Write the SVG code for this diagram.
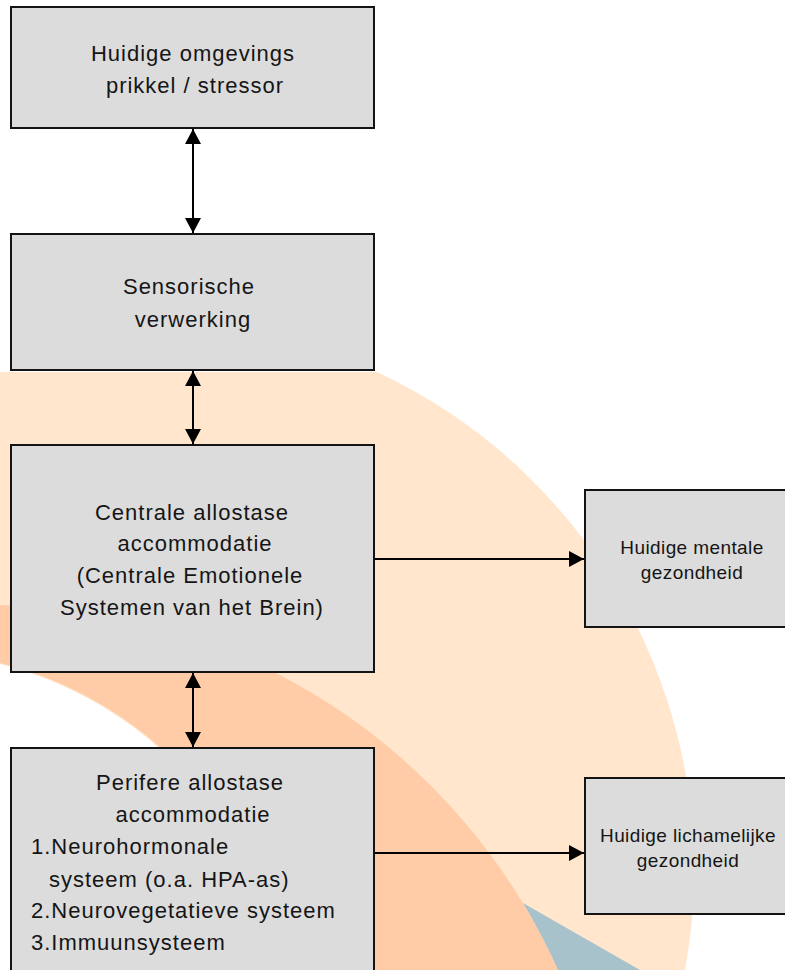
<svg xmlns="http://www.w3.org/2000/svg" width="785" height="970" viewBox="0 0 785 970">
  <style>
    .box { fill: #dcdcdc; stroke: #141414; stroke-width: 2; }
    .t { font-family: "Liberation Sans", Arial, sans-serif; font-size: 22px; letter-spacing: 1px; fill: #151515; }
    .c { text-anchor: middle; }
    .s { font-size: 19px; letter-spacing: 0.4px; }
    .conn { stroke: #000; stroke-width: 2; fill: none; }
  </style>
  <defs>
    <marker id="ah" markerUnits="userSpaceOnUse" markerWidth="15" markerHeight="16" refX="15" refY="8" orient="auto-start-reverse">
      <path d="M0,0 L15,8 L0,16 Z" fill="#000"/>
    </marker>
  </defs>
  <rect x="0" y="0" width="785" height="970" fill="#ffffff"/>
  <g id="watermark">
    <path d="M0,372 L377,372 A550,550 0 0,1 685,970 L0,970 Z" fill="#ffe6cd"/>
    <path d="M0,605 A618,618 0 0,1 558,970 L285,970 A385,385 0 0,0 0,663 Z" fill="#ffcca7"/>
    <circle cx="-95" cy="1037" r="385" fill="#ffffff"/>
    <path d="M523,903 L640,970 L558,970 A618,618 0 0,0 523,903 Z" fill="#a8c2cc"/>
  </g>
  <g id="connectors">
    <line class="conn" x1="193" y1="129" x2="193" y2="233" marker-start="url(#ah)" marker-end="url(#ah)"/>
    <line class="conn" x1="193" y1="371" x2="193" y2="444" marker-start="url(#ah)" marker-end="url(#ah)"/>
    <line class="conn" x1="193" y1="673" x2="193" y2="747" marker-start="url(#ah)" marker-end="url(#ah)"/>
    <line class="conn" x1="375" y1="559" x2="584" y2="559" marker-end="url(#ah)"/>
    <line class="conn" x1="375" y1="853" x2="584" y2="853" marker-end="url(#ah)"/>
  </g>
  <g id="stressor">
    <rect class="box" x="11" y="7" width="363" height="121"/>
    <text class="t c" x="193" y="61">Huidige omgevings</text>
    <text class="t c" x="195" y="93">prikkel / stressor</text>
  </g>
  <g id="sensorisch">
    <rect class="box" x="11" y="234" width="363" height="136"/>
    <text class="t c" x="189" y="294">Sensorische</text>
    <text class="t c" x="193" y="327">verwerking</text>
  </g>
  <g id="centraal">
    <rect class="box" x="11" y="445" width="363" height="227"/>
    <text class="t c" x="192" y="520">Centrale allostase</text>
    <text class="t c" x="195" y="551">accommodatie</text>
    <text class="t c" x="190" y="583">(Centrale Emotionele</text>
    <text class="t c" x="192" y="615">Systemen van het Brein)</text>
  </g>
  <g id="perifeer">
    <rect class="box" x="11" y="748" width="363" height="240"/>
    <text class="t c" x="190" y="790">Perifere allostase</text>
    <text class="t c" x="193" y="822">accommodatie</text>
    <text class="t" x="31" y="854">1.Neurohormonale</text>
    <text class="t" x="49" y="887">systeem (o.a. HPA-as)</text>
    <text class="t" x="31" y="918">2.Neurovegetatieve systeem</text>
    <text class="t" x="31" y="950">3.Immuunsysteem</text>
  </g>
  <g id="mentaal">
    <rect class="box" x="585" y="490" width="215" height="137"/>
    <text class="t s c" x="692" y="554">Huidige mentale</text>
    <text class="t s c" x="692" y="579">gezondheid</text>
  </g>
  <g id="lichamelijk">
    <rect class="box" x="585" y="778" width="215" height="136"/>
    <text class="t s c" x="688" y="842">Huidige lichamelijke</text>
    <text class="t s c" x="688" y="867">gezondheid</text>
  </g>
</svg>
